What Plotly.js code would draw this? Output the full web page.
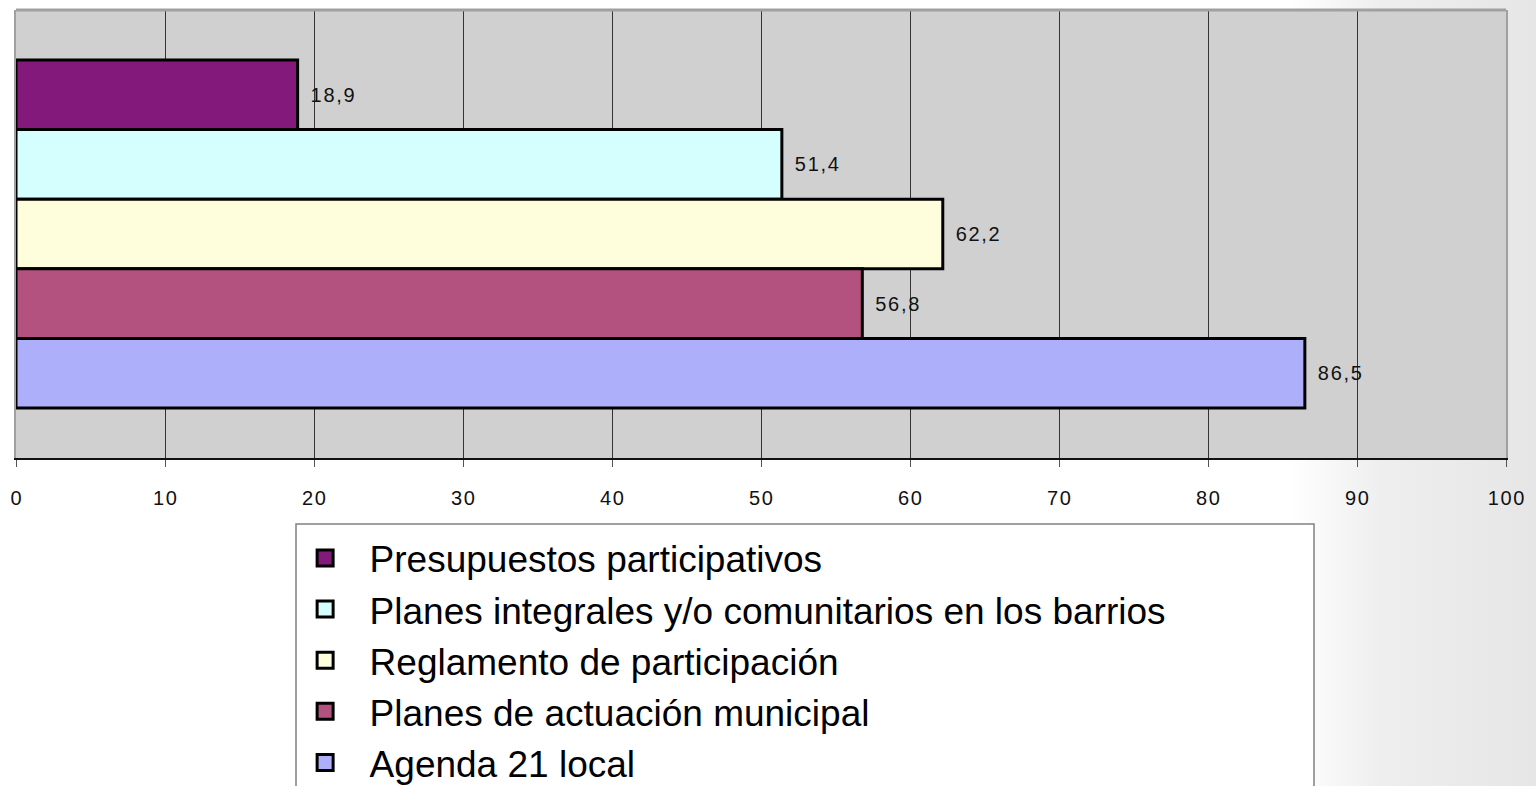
<!DOCTYPE html>
<html>
<head>
<meta charset="utf-8">
<script src="https://cdn.plot.ly/plotly-3.0.1.min.js"></script>
<style>
  html, body { margin: 0; padding: 0; }
  body { background: linear-gradient(90deg, #ffffff 0%, #ffffff 84%, #eeeeee 90%, #e6e6e6 100%); }
  #chart { width: 1536px; height: 786px; }
</style>
</head>
<body>
<div id="chart"></div>
<script>
// ---- data ----
const seriesNames = [
  "Presupuestos participativos",
  "Planes integrales y/o comunitarios en los barrios",
  "Reglamento de participación",
  "Planes de actuación municipal",
  "Agenda 21 local"
];
const seriesValues = [18.9, 51.4, 62.2, 56.8, 86.5];
const seriesColors = ["#84197c", "#d5fefe", "#fefedc", "#b4527f", "#adaffb"];
const category = [""];
const tickValues = [0, 10, 20, 30, 40, 50, 60, 70, 80, 90, 100];

const SP = "\u200a";
const spaced = s => s.split("").join(SP);
const fmt = v => "\u2002" + spaced(String(v).replace(".", ","));
const labelFont = "Liberation Sans, Arial, sans-serif";

const traces = [];
seriesNames.forEach((name, i) => {
  traces.push({
    type: "bar",
    orientation: "h",
    name: name,
    legendgroup: "g" + i,
    showlegend: false,
    y: category,
    x: [seriesValues[i]],
    text: [fmt(seriesValues[i])],
    textposition: "outside",
    cliponaxis: false,
    textfont: { family: labelFont, size: 20, color: "#111" },
    marker: { color: seriesColors[i], line: { color: "#000", width: 3 } },
    hoverinfo: "x+name"
  });
});
seriesNames.forEach((name, i) => {
  traces.push({
    type: "scatter",
    mode: "markers",
    name: name,
    legendgroup: "g" + i,
    showlegend: true,
    x: [null],
    y: [null],
    marker: { symbol: "square", size: 16, color: seriesColors[i], line: { color: "#000", width: 3 } },
    hoverinfo: "skip"
  });
});

const layout = {
  width: 1536,
  height: 786,
  margin: { l: 16, r: 30, t: 10, b: 328, autoexpand: false },
  paper_bgcolor: "rgba(0,0,0,0)",
  plot_bgcolor: "#d0d0d0",
  barmode: "group",
  bargap: 0.223,
  bargroupgap: 0,
  showlegend: true,
  xaxis: {
    range: [0, 100],
    tickvals: tickValues,
    ticktext: tickValues.map(v => spaced(String(v))),
    ticks: "outside",
    ticklen: 7,
    tickwidth: 1,
    tickcolor: "#555",
    tickfont: { family: labelFont, size: 20, color: "#111" },
    ticklabelstandoff: 14,
    showgrid: true,
    gridcolor: "#333",
    gridwidth: 1,
    zeroline: false,
    showline: true,
    linecolor: "#111",
    linewidth: 2,
    fixedrange: true
  },
  yaxis: {
    type: "category",
    autorange: "reversed",
    showticklabels: false,
    ticks: "",
    showgrid: false,
    zeroline: false,
    showline: true,
    mirror: true,
    linecolor: "#a0a0a0",
    linewidth: 2,
    fixedrange: true
  },
  legend: {
    x: 0.1776,
    xanchor: "left",
    y: -0.155,
    yanchor: "top",
    bgcolor: "rgba(0,0,0,0)",
    borderwidth: 0,
    itemwidth: 79,
    tracegroupgap: 0,
    font: { family: "Liberation Sans, Arial, sans-serif", size: 37, color: "#000" },
    traceorder: "normal"
  },
  shapes: [
    { type: "line", xref: "paper", yref: "paper", x0: 0, x1: 1, y0: 1, y1: 1,
      line: { color: "#a0a0a0", width: 3 }, layer: "above" },
    { type: "rect", xref: "paper", yref: "paper",
      x0: (296 - 16) / 1490, x1: (1314 - 16) / 1490, y0: -66 / 448, y1: -1.2,
      line: { color: "#808080", width: 1.5 }, fillcolor: "#ffffff", layer: "above" }
  ]
};

Plotly.newPlot("chart", traces, layout, { displayModeBar: false });
</script>
</body>
</html>
